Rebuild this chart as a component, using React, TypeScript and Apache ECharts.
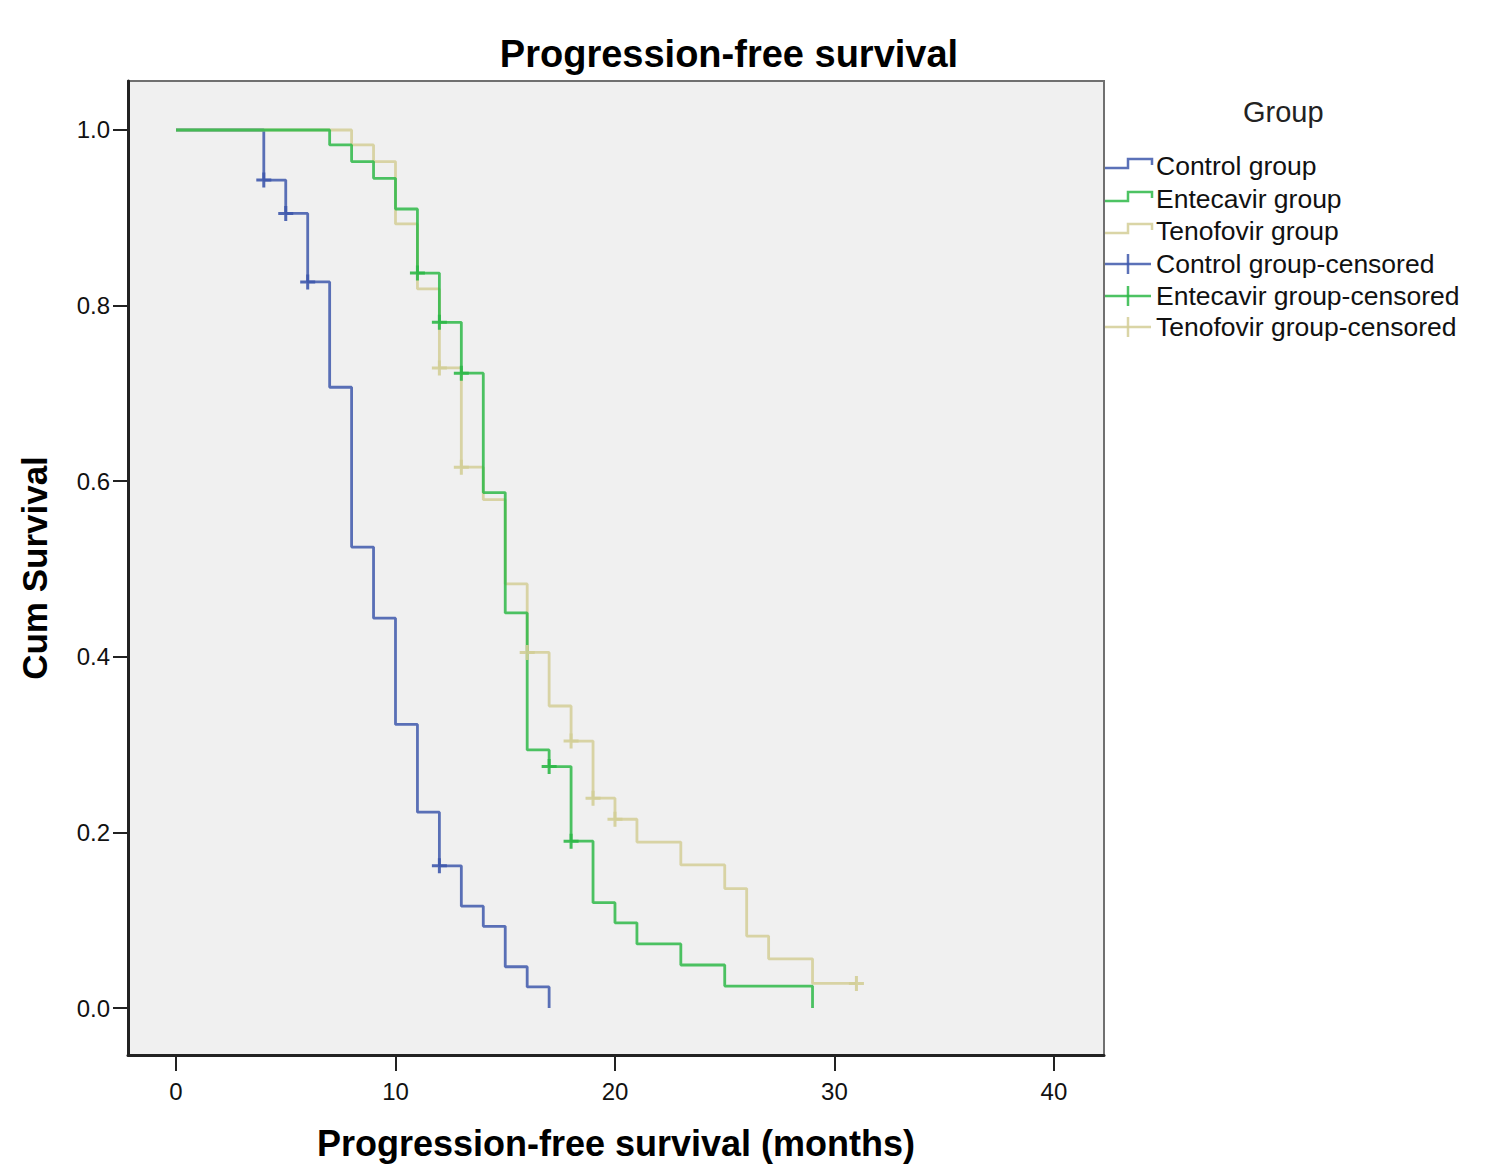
import React, { useEffect, useRef } from "react";
import * as echarts from "echarts";

// Kaplan-Meier step points [months, cumulative survival]
const controlSteps: [number, number][] = [
  [0, 1], [4, 0.943], [5, 0.905], [6, 0.827], [7, 0.707], [8, 0.525], [9, 0.444],
  [10, 0.323], [11, 0.223], [12, 0.162], [13, 0.116], [14, 0.093], [15, 0.047],
  [16, 0.024], [17, 0],
];
const entecavirSteps: [number, number][] = [
  [0, 1], [7, 0.983], [8, 0.964], [9, 0.945], [10, 0.91], [11, 0.837], [12, 0.781],
  [13, 0.723], [14, 0.587], [15, 0.45], [16, 0.294], [17, 0.275], [18, 0.19],
  [19, 0.12], [20, 0.097], [21, 0.073], [23, 0.049], [25, 0.025], [29, 0],
];
const tenofovirSteps: [number, number][] = [
  [0, 1], [8, 0.983], [9, 0.964], [10, 0.893], [11, 0.819], [12, 0.729], [13, 0.616],
  [14, 0.579], [15, 0.483], [16, 0.405], [17, 0.344], [18, 0.304], [19, 0.239],
  [20, 0.215], [21, 0.189], [23, 0.163], [25, 0.136], [26, 0.082], [27, 0.056],
  [29, 0.028], [31, 0.028],
];
// Censored observations
const controlCensored: [number, number][] = [[4, 0.943], [5, 0.905], [6, 0.827], [12, 0.162]];
const entecavirCensored: [number, number][] = [[11, 0.837], [12, 0.781], [13, 0.723], [17, 0.275], [18, 0.19]];
const tenofovirCensored: [number, number][] = [
  [12, 0.729], [13, 0.616], [16, 0.405], [18, 0.304], [19, 0.239], [20, 0.215], [31, 0.028],
];

const xTicks = [0, 10, 20, 30, 40];
const yTicks = [0, 0.2, 0.4, 0.6, 0.8, 1.0];

const legendTitle = "Group";
const groupNames = ["Control group", "Entecavir group", "Tenofovir group"];

const COLORS = ["#3e58ac", "#2eb848", "#d3ce97"];
const FONT = "'Liberation Sans', Arial, sans-serif";
const PLUS = "path://M4,0h2v4h4v2h-4v4h-2v-4h-4v-2h4z";

export default function App() {
  const ref = useRef<HTMLDivElement>(null);
  useEffect(() => {
    if (!ref.current) return;
    const chart = echarts.init(ref.current, null, { renderer: "svg" });
    const steps = [controlSteps, entecavirSteps, tenofovirSteps];
    const cens = [controlCensored, entecavirCensored, tenofovirCensored];

    const lineSeries: any[] = steps.map((d, i) => ({
      type: "line",
      name: groupNames[i],
      step: "end",
      data: d,
      showSymbol: false,
      symbol: "none",
      lineStyle: { color: COLORS[i], width: 2.8, opacity: 0.85 },
      z: 2 + (i === 1 ? 1 : 0),
    }));
    const censSeries: any[] = cens.map((d, i) => ({
      type: "scatter",
      name: groupNames[i] + "-censored",
      data: d,
      symbol: PLUS,
      symbolSize: 15,
      itemStyle: { color: COLORS[i], opacity: 0.9 },
      z: 4,
    }));

    // Legend drawn as graphic elements
    const legendEls: any[] = [];
    legendEls.push({
      type: "text",
      left: 1243,
      top: 97,
      style: { text: legendTitle, font: `29px ${FONT}`, fill: "#222" },
    });
    const rowY = [166, 199, 231, 264, 296, 327];
    for (let k = 0; k < 6; k++) {
      const ci = k % 3;
      const y = rowY[k];
      if (k < 3) {
        legendEls.push({
          type: "polyline",
          shape: {
            points: [[1105, y + 2], [1128, y + 2], [1128, y - 7], [1152, y - 7], [1152, y - 1]],
          },
          style: { stroke: COLORS[ci], lineWidth: 2.5, fill: "none", opacity: 0.85 },
        });
      } else {
        legendEls.push({
          type: "line",
          shape: { x1: 1105, y1: y, x2: 1151, y2: y },
          style: { stroke: COLORS[ci], lineWidth: 2.5, opacity: 0.85 },
        });
        legendEls.push({
          type: "line",
          shape: { x1: 1128, y1: y - 10, x2: 1128, y2: y + 10 },
          style: { stroke: COLORS[ci], lineWidth: 2.5, opacity: 0.85 },
        });
      }
      legendEls.push({
        type: "text",
        left: 1156,
        top: y - 14,
        style: {
          text: k < 3 ? groupNames[ci] : groupNames[ci] + "-censored",
          font: `26.5px ${FONT}`,
          fill: "#111",
        },
      });
    }

    chart.setOption({
      animation: false,
      backgroundColor: "#ffffff",
      title: {
        text: "Progression-free survival",
        left: 724,
        top: 30,
        textAlign: "center",
        textStyle: { fontFamily: FONT, fontSize: 38, fontWeight: "bold", color: "#000" },
      },
      grid: {
        left: 128,
        top: 81,
        right: 384,
        bottom: 119,
        show: true,
        backgroundColor: "#f0f0f0",
        borderColor: "#707070",
        borderWidth: 2,
        containLabel: false,
      },
      xAxis: {
        type: "value",
        min: -2.187,
        max: 42.28,
        name: "Progression-free survival (months)",
        nameLocation: "middle",
        nameGap: 70,
        nameTextStyle: { fontFamily: FONT, fontSize: 36, fontWeight: "bold", color: "#000" },
        splitLine: { show: false },
        axisLine: { show: true, onZero: false, lineStyle: { color: "#222", width: 3 } },
        axisTick: { show: true, length: 16, customValues: xTicks, lineStyle: { color: "#222", width: 2 } },
        axisLabel: {
          customValues: xTicks,
          margin: 24,
          fontFamily: FONT,
          fontSize: 24,
          color: "#111",
        },
      },
      yAxis: {
        type: "value",
        min: -0.0535,
        max: 1.0558,
        name: "Cum Survival",
        nameLocation: "middle",
        nameGap: 76,
        nameTextStyle: { fontFamily: FONT, fontSize: 35, fontWeight: "bold", color: "#000" },
        splitLine: { show: false },
        axisLine: { show: true, onZero: false, lineStyle: { color: "#222", width: 3 } },
        axisTick: { show: true, length: 15, customValues: yTicks, lineStyle: { color: "#222", width: 2 } },
        axisLabel: {
          customValues: yTicks,
          margin: 18,
          fontFamily: FONT,
          fontSize: 24,
          color: "#111",
          formatter: (v: number) => v.toFixed(1),
        },
      },
      series: [...lineSeries, ...censSeries],
      graphic: { elements: legendEls },
    });
    return () => chart.dispose();
  }, []);
  return (
    <div
      ref={ref}
      style={{ position: "fixed", left: 0, top: 0, width: 1488, height: 1174 }}
    />
  );
}
